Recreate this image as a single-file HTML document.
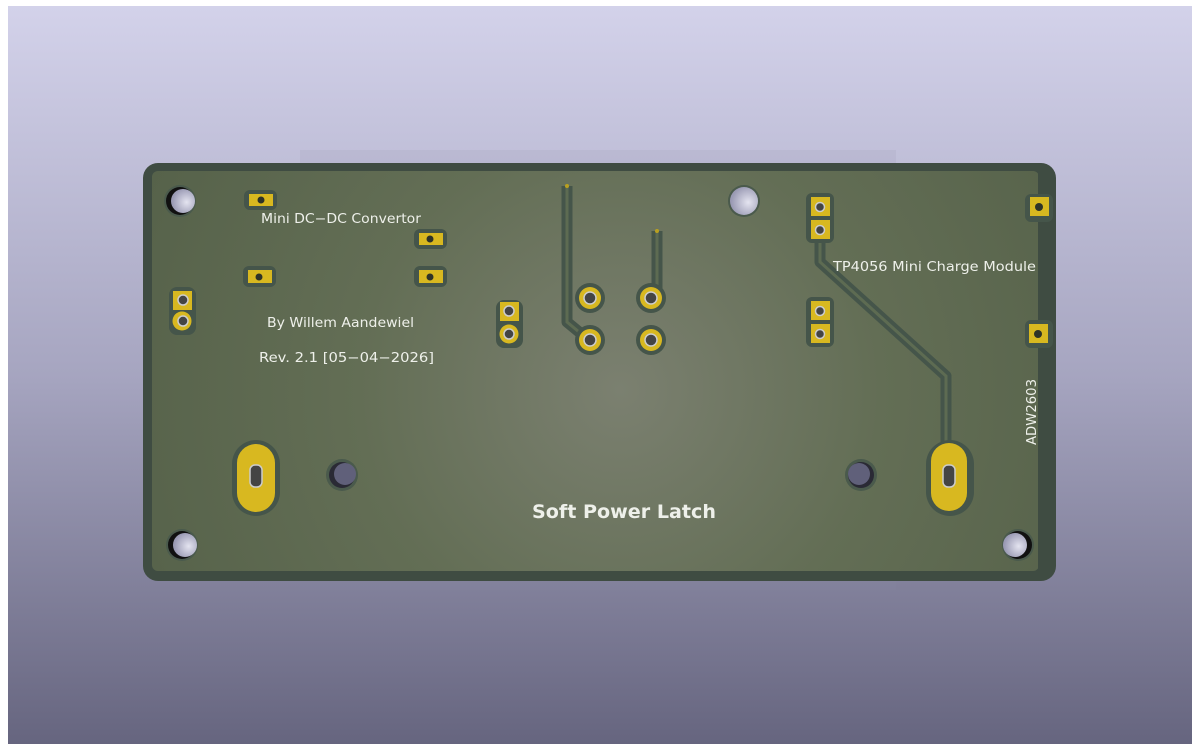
<!DOCTYPE html>
<html><head><meta charset="utf-8"><style>
html,body{margin:0;padding:0;background:#fff;}
svg{display:block}
text{font-family:"DejaVu Sans","Liberation Sans",sans-serif;fill:#eef0ea}
</style></head><body>
<svg width="1200" height="744" viewBox="0 0 1200 744" xmlns="http://www.w3.org/2000/svg">
<defs>
<linearGradient id="bg" x1="0" y1="0" x2="0" y2="1">
<stop offset="0" stop-color="#d3d2ea"/><stop offset="0.5" stop-color="#a6a5c0"/><stop offset="1" stop-color="#66657f"/>
</linearGradient>
<radialGradient id="brd" cx="620" cy="390" r="520" gradientUnits="userSpaceOnUse">
<stop offset="0" stop-color="#7b8070"/><stop offset="0.5" stop-color="#636e55"/><stop offset="1" stop-color="#56624a"/>
</radialGradient>
<radialGradient id="hole" cx="0.65" cy="0.55" r="0.6"><stop offset="0" stop-color="#e4e4f0"/><stop offset="1" stop-color="#9a9ab4"/></radialGradient>
</defs>
<rect width="1200" height="744" fill="#fff"/>
<rect x="8" y="6" width="1184" height="738" fill="url(#bg)"/>
<rect x="300" y="150" width="596" height="440" fill="#8f8ea8" opacity="0.12"/>
<rect x="143" y="163" width="913" height="418" rx="15" fill="#3f4c42"/>
<rect x="152" y="171" width="887" height="400" rx="6" fill="url(#brd)"/>
<rect x="1038" y="171" width="3" height="400" fill="#3f4c42"/>
<g>
<circle cx="180" cy="201" r="16" fill="#4a5a4c"/><circle cx="180" cy="201" r="14" fill="#111"/><circle cx="183" cy="201" r="12" fill="url(#hole)"/>
<circle cx="744" cy="201" r="16" fill="#4a5a4c"/><circle cx="744" cy="201" r="14" fill="url(#hole)"/>
<circle cx="182" cy="545" r="16" fill="#4a5a4c"/><circle cx="182" cy="545" r="14" fill="#111"/><circle cx="185" cy="545" r="12" fill="url(#hole)"/>
<circle cx="1018" cy="545" r="16" fill="#4a5a4c"/><circle cx="1018" cy="545" r="14" fill="#111"/><circle cx="1015" cy="545" r="12" fill="url(#hole)"/>
<circle cx="342" cy="475" r="16" fill="#4a5a4c"/><circle cx="342" cy="475" r="13" fill="#2a2a35"/><circle cx="345" cy="474" r="11" fill="#60607a"/>
<circle cx="861" cy="475" r="16" fill="#4a5a4c"/><circle cx="861" cy="475" r="13" fill="#2a2a35"/><circle cx="859" cy="474" r="11" fill="#60607a"/>
</g>
<g fill="none" stroke="#45554a" stroke-width="11" stroke-linejoin="round">
<polyline points="567,186 567,322 590,341"/>
<polyline points="657,231 657,296"/>
<polyline points="820,232 820,262 946,376 946,448"/>
</g>
<g fill="none" stroke="#5d6b52" stroke-width="3">
<polyline points="567,186 567,322 590,341"/>
<polyline points="657,231 657,296"/>
<polyline points="820,232 820,262 946,376 946,448"/>
</g>
<g>
<g fill="#45554a">
<rect x="244" y="190" width="33" height="20" rx="6"/><rect x="243" y="266" width="33" height="21" rx="6"/>
<rect x="414" y="229" width="33" height="20" rx="6"/><rect x="414" y="266" width="33" height="21" rx="6"/>
<rect x="169" y="287" width="27" height="48" rx="8"/>
<rect x="496" y="300" width="27" height="48" rx="8"/>
<rect x="806" y="193" width="28" height="50" rx="6"/><rect x="806" y="297" width="28" height="50" rx="6"/>
<rect x="1025" y="194" width="28" height="28" rx="6"/><rect x="1025" y="320" width="28" height="28" rx="6"/>
<rect x="575" y="283" width="30" height="30" rx="15"/><rect x="575" y="325" width="30" height="30" rx="15"/>
<rect x="636" y="283" width="30" height="30" rx="15"/><rect x="636" y="325" width="30" height="30" rx="15"/>
<rect x="232" y="440" width="48" height="76" rx="24"/><rect x="926" y="440" width="48" height="76" rx="24"/>
</g>
<g fill="#d8b820">
<rect x="249" y="194" width="24" height="12"/><rect x="248" y="270" width="24" height="13"/>
<rect x="419" y="233" width="24" height="12"/><rect x="419" y="270" width="24" height="13"/>
<rect x="173" y="291" width="19" height="19"/><circle cx="182" cy="321" r="9.5"/>
<rect x="500" y="302" width="19" height="19"/><circle cx="509" cy="334" r="9.5"/>
<rect x="811" y="197" width="19" height="19"/><rect x="811" y="220" width="19" height="19"/>
<rect x="811" y="301" width="19" height="19"/><rect x="811" y="324" width="19" height="19"/>
<rect x="1030" y="197" width="19" height="19"/><rect x="1029" y="324" width="19" height="19"/>
<circle cx="590" cy="298" r="11"/><circle cx="590" cy="340" r="11"/>
<circle cx="651" cy="298" r="11"/><circle cx="651" cy="340" r="11"/>
<rect x="237" y="444" width="38" height="68" rx="19"/><rect x="931" y="443" width="36" height="68" rx="18"/>
</g>
<g fill="#2e3328">
<circle cx="261" cy="200" r="3.5"/><circle cx="259" cy="277" r="3.5"/><circle cx="430" cy="239" r="3.5"/><circle cx="430" cy="277" r="3.5"/>
<circle cx="1039" cy="207" r="4"/><circle cx="1038" cy="334" r="4"/>
</g>
<g fill="#444" stroke="#ccc" stroke-width="1.5">
<circle cx="183" cy="300" r="5"/><circle cx="183" cy="321" r="5"/>
<circle cx="509" cy="311" r="5"/><circle cx="509" cy="334" r="5"/>
<circle cx="820" cy="207" r="4.5"/><circle cx="820" cy="230" r="4.5"/>
<circle cx="820" cy="311" r="4.5"/><circle cx="820" cy="334" r="4.5"/>
<circle cx="590" cy="298" r="6"/><circle cx="590" cy="340" r="6"/>
<circle cx="651" cy="298" r="6"/><circle cx="651" cy="340" r="6"/>
<rect x="250" y="465" width="12" height="22" rx="5"/><rect x="943" y="465" width="12" height="22" rx="5"/>
</g>
<circle cx="567" cy="186" r="2" fill="#b9a020"/><circle cx="657" cy="231" r="2" fill="#b9a020"/>
</g>
<text x="261" y="223" font-size="13" textLength="160" lengthAdjust="spacingAndGlyphs">Mini DC−DC Convertor</text>
<text x="267" y="327" font-size="13" textLength="147" lengthAdjust="spacingAndGlyphs">By Willem Aandewiel</text>
<text x="259" y="362" font-size="13" textLength="175" lengthAdjust="spacingAndGlyphs">Rev. 2.1 [05−04−2026]</text>
<text x="833" y="271" font-size="13" textLength="203" lengthAdjust="spacingAndGlyphs">TP4056 Mini Charge Module</text>
<text transform="translate(1036,445) rotate(-90)" font-size="13" textLength="66" lengthAdjust="spacingAndGlyphs">ADW2603</text>
<text x="532" y="518" font-size="19" font-weight="bold" fill="#fff" textLength="184" lengthAdjust="spacingAndGlyphs">Soft Power Latch</text>
</svg>
</body></html>
